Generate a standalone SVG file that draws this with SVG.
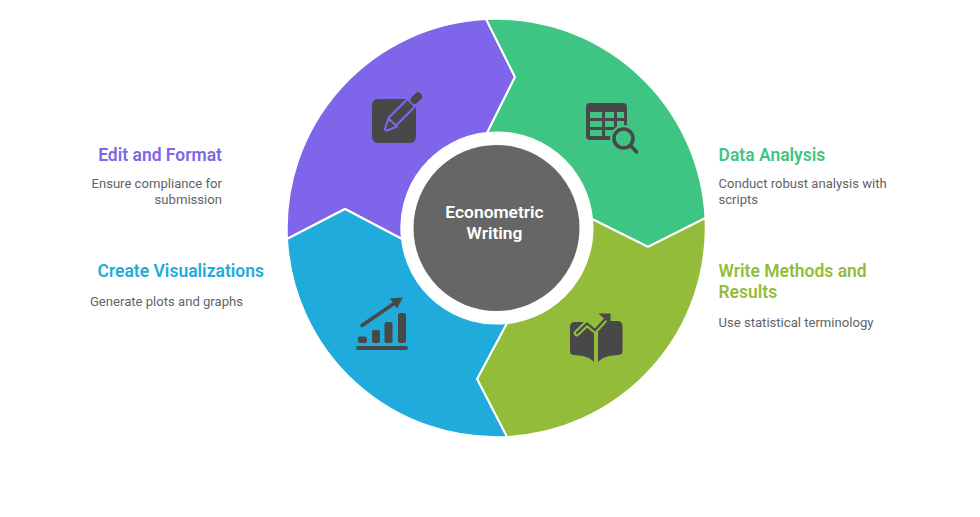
<svg xmlns="http://www.w3.org/2000/svg" width="980" height="517" viewBox="0 0 980 517">
<style>
.seg{stroke:#fff;stroke-width:2;stroke-linejoin:miter}
.ic{fill:#484848}
.t{font-family:Roboto,"Liberation Sans",sans-serif;font-size:17.5px;font-weight:600}
.b{font-family:Roboto,"Liberation Sans",sans-serif;font-size:13.1px;fill:#5f6368}
.c{font-family:Roboto,"Liberation Sans",sans-serif;font-size:17.4px;font-weight:600;fill:#fff;text-anchor:middle}
.e{text-anchor:end}
</style>
<rect width="980" height="517" fill="#fff"/>
<g id="connectors"></g>
<g id="edit-format">
<path class="seg" fill="#7f65e9" d="M486 19A209.500 209.500 0 0 0 287 239L345 209L402 239A95 95 0 0 1 487 133L515 77Z"/>
<rect class="ic" x="372" y="99" width="44" height="44" rx="6"/>
<path d="M392 122L414 100" stroke="#7f65e9" stroke-width="13" fill="none"/>
<path d="M392 122L410.500 103.500" stroke="#484848" stroke-width="8.500" fill="none"/>
<path d="M388.500 118.500L385 128.500Q384.500 131 387 130.500L397 126.500Z" fill="#484848" stroke="#7f65e9" stroke-width="2" stroke-linejoin="round"/>
<path d="M414.500 100L418 96.500" stroke="#484848" stroke-width="8" stroke-linecap="round" fill="none"/>
<text class="t e" x="222" y="160.500" fill="#7f65e9">Edit and Format</text>
<text class="b e" x="222" y="188">Ensure compliance for</text>
<text class="b e" x="222" y="204">submission</text>
</g>
<g id="data-analysis">
<path class="seg" fill="#3ec583" d="M486 19A209.500 209.500 0 0 1 705.500 218L648 247L592 219A95 95 0 0 0 487 133L515 77Z"/>
<rect class="ic" x="586" y="103" width="41" height="37" rx="4"/>
<path fill="#3ec583" d="M590 112h12v6h-12zM605 112h9v6h-9zM617 112h7v6h-7zM590 121h12v6h-12zM605 121h9v6h-9zM617 121h7v6h-7zM590 130h12v6h-12zM605 130h9v6h-9z"/>
<circle cx="623.500" cy="138.500" r="13.500" fill="#3ec583"/>
<circle cx="623.500" cy="138.500" r="9.500" fill="none" stroke="#484848" stroke-width="3.500"/>
<path d="M631 146L636.500 152" stroke="#484848" stroke-width="3.500" stroke-linecap="round"/>
<text class="t" x="718.500" y="160.500" fill="#3ec583">Data Analysis</text>
<text class="b" x="718.500" y="188">Conduct robust analysis with</text>
<text class="b" x="718.500" y="204">scripts</text>
</g>
<g id="write-methods">
<path class="seg" fill="#93bc3a" d="M705.500 218A209.500 209.500 0 0 1 507 437L477 379L507 323A95 95 0 0 0 592 219L648 247Z"/>
<path class="ic" d="M575 322H584L594 330V362Q590 356 574 355Q570 355 570 351V327Q570 322 575 322Z"/>
<path class="ic" d="M598 330L606 321H617Q622.500 321 622.500 326V351Q622.500 355 618 355Q602 356 598 362Z"/>
<path d="M577 333L587 323.500L595 330L605 319" fill="none" stroke="#93bc3a" stroke-width="6.500" stroke-linecap="round"/>
<path d="M577 333L587 323.500L595 330L606 318" fill="none" stroke="#484848" stroke-width="2.200" stroke-linecap="round"/>
<path class="ic" d="M598.500 313.500H610.500V324.500Z"/>
<text class="t" x="718.500" y="276.500" fill="#93bc3a">Write Methods and</text>
<text class="t" x="718.500" y="297.500" fill="#93bc3a">Results</text>
<text class="b" x="718.500" y="327">Use statistical terminology</text>
</g>
<g id="create-visualizations">
<path class="seg" fill="#1fabdb" d="M287 239L345 209L402 239A95 95 0 0 0 507 323L477 379L507 437A209.500 209.500 0 0 1 287 239Z"/>
<rect class="ic" x="358" y="336.500" width="9" height="6.500" rx="2"/>
<rect class="ic" x="372" y="330" width="8" height="13" rx="2"/>
<rect class="ic" x="384.500" y="322" width="8" height="21" rx="2"/>
<rect class="ic" x="398" y="313" width="8" height="30" rx="2"/>
<rect class="ic" x="356" y="346" width="52" height="4" rx="2"/>
<path d="M362 325.500L394 303.500" stroke="#484848" stroke-width="3.500" stroke-linecap="round"/>
<path class="ic" d="M390 298.500L403 297.500L397 308.500Z"/>
<text class="t e" x="264" y="276.500" fill="#1fabdb">Create Visualizations</text>
<text class="b e" x="243" y="306">Generate plots and graphs</text>
</g>
<g id="center">
<circle cx="496.500" cy="228" r="95" fill="#fff"/>
<circle cx="496.500" cy="228" r="83" fill="#666"/>
<text class="c" x="494.500" y="217.500">Econometric</text>
<text class="c" x="494.500" y="238.500">Writing</text>
</g>
</svg>
